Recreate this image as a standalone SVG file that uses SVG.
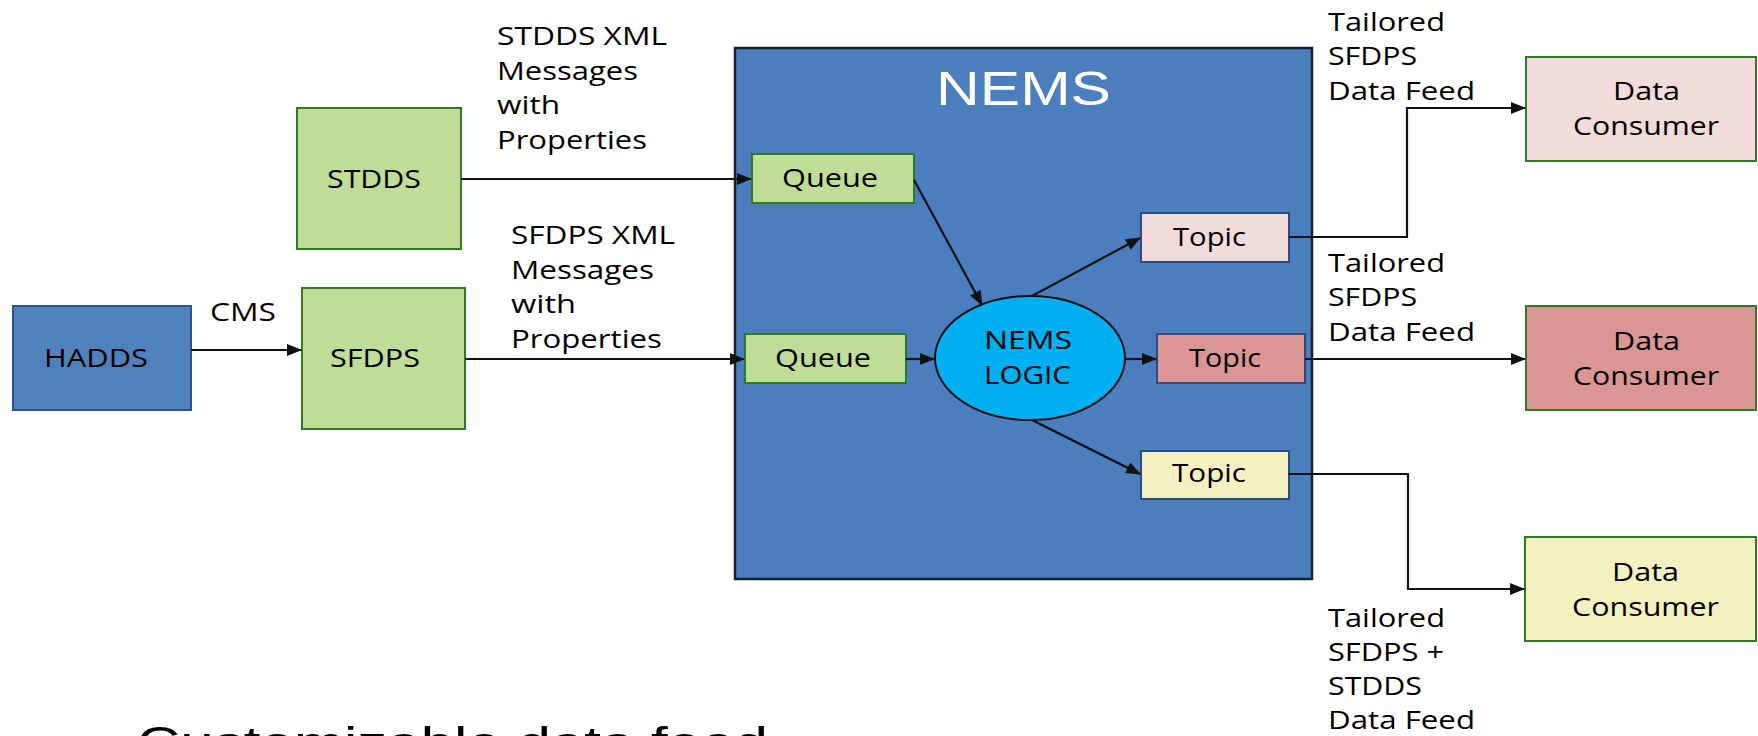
<svg xmlns="http://www.w3.org/2000/svg" width="1758" height="736" viewBox="0 0 1758 736">
<style>
.t{font-family:"Open Sans","Liberation Sans",sans-serif;font-size:26px;fill:#000;}
.lbl{font-family:"Open Sans","Liberation Sans",sans-serif;font-size:25px;fill:#000;}
.green{fill:#C0DD98;stroke:#2F7A24;stroke-width:2;}
.dc{stroke:#2F7A24;stroke-width:2;}
.topic{stroke:#2F4A80;stroke-width:2;}
.conn{fill:none;stroke:#111;stroke-width:2.2;}
</style>
<defs>
<marker id="ah" markerUnits="userSpaceOnUse" markerWidth="15" markerHeight="12" refX="14" refY="6" orient="auto">
<path d="M0,0 L15,6 L0,12 z" fill="#111"/>
</marker>
</defs>
<rect width="1758" height="736" fill="#fff"/>

<g id="nems">
<rect x="735" y="48" width="577" height="531" fill="#4A7EBF" stroke="#16202E" stroke-width="2.5"/>
<text x="936" y="105" font-family="Liberation Sans, Arial, sans-serif" font-size="49" fill="#fff" textLength="175" lengthAdjust="spacingAndGlyphs">NEMS</text>
</g>

<g id="hadds">
<rect x="13" y="306" width="178" height="104" fill="#4F81BD" stroke="#2F528F" stroke-width="2"/>
<text class="lbl" x="44" y="367" textLength="104" lengthAdjust="spacingAndGlyphs">HADDS</text>
</g>
<g id="stdds">
<rect class="green" x="297" y="108" width="164" height="141"/>
<text class="lbl" x="327" y="188" textLength="94" lengthAdjust="spacingAndGlyphs">STDDS</text>
</g>
<g id="sfdps">
<rect class="green" x="302" y="288" width="163" height="141"/>
<text class="lbl" x="330" y="367" textLength="90" lengthAdjust="spacingAndGlyphs">SFDPS</text>
</g>
<g id="queue1">
<rect class="green" x="752" y="154" width="162" height="49"/>
<text class="lbl" x="782" y="187" textLength="96" lengthAdjust="spacingAndGlyphs">Queue</text>
</g>
<g id="queue2">
<rect class="green" x="745" y="334" width="161" height="49"/>
<text class="lbl" x="775" y="367" textLength="96" lengthAdjust="spacingAndGlyphs">Queue</text>
</g>
<g id="logic">
<ellipse cx="1030" cy="358" rx="95" ry="62" fill="#00B0F0" stroke="#111" stroke-width="2"/>
<text class="lbl" x="984" y="349" textLength="88" lengthAdjust="spacingAndGlyphs">NEMS</text>
<text class="lbl" x="984" y="384" textLength="87" lengthAdjust="spacingAndGlyphs">LOGIC</text>
</g>
<g id="topic1">
<rect class="topic" x="1141" y="213" width="148" height="49" fill="#F2DCDB"/>
<text class="lbl" x="1173" y="246" textLength="73" lengthAdjust="spacingAndGlyphs">Topic</text>
</g>
<g id="topic2">
<rect class="topic" x="1157" y="334" width="148" height="49" fill="#D99694"/>
<text class="lbl" x="1189" y="367" textLength="72" lengthAdjust="spacingAndGlyphs">Topic</text>
</g>
<g id="topic3">
<rect class="topic" x="1141" y="451" width="148" height="48" fill="#F3F0C2"/>
<text class="lbl" x="1172" y="482" textLength="74" lengthAdjust="spacingAndGlyphs">Topic</text>
</g>
<g id="dc1">
<rect class="dc" x="1526" y="57" width="230" height="104" fill="#F2DCDB"/>
<text class="lbl" x="1613" y="100" textLength="67" lengthAdjust="spacingAndGlyphs">Data</text>
<text class="lbl" x="1573" y="135" textLength="146" lengthAdjust="spacingAndGlyphs">Consumer</text>
</g>
<g id="dc2">
<rect class="dc" x="1526" y="306" width="230" height="104" fill="#D99694"/>
<text class="lbl" x="1613" y="350" textLength="67" lengthAdjust="spacingAndGlyphs">Data</text>
<text class="lbl" x="1573" y="385" textLength="146" lengthAdjust="spacingAndGlyphs">Consumer</text>
</g>
<g id="dc3">
<rect class="dc" x="1525" y="537" width="231" height="104" fill="#F3F0C2"/>
<text class="lbl" x="1612" y="581" textLength="67" lengthAdjust="spacingAndGlyphs">Data</text>
<text class="lbl" x="1572" y="616" textLength="147" lengthAdjust="spacingAndGlyphs">Consumer</text>
</g>

<g id="connectors">
<line class="conn" x1="191" y1="350" x2="301" y2="350" marker-end="url(#ah)"/>
<line class="conn" x1="461" y1="179" x2="751" y2="179" marker-end="url(#ah)"/>
<line class="conn" x1="465" y1="359" x2="744" y2="359" marker-end="url(#ah)"/>
<line class="conn" x1="914" y1="180" x2="982" y2="305" marker-end="url(#ah)"/>
<line class="conn" x1="906" y1="359" x2="934" y2="359" marker-end="url(#ah)"/>
<line class="conn" x1="1032" y1="296" x2="1140" y2="238" marker-end="url(#ah)"/>
<line class="conn" x1="1125" y1="359" x2="1156" y2="359" marker-end="url(#ah)"/>
<line class="conn" x1="1032" y1="420" x2="1140" y2="474" marker-end="url(#ah)"/>
<polyline class="conn" points="1289,237 1407,237 1407,108 1525,108" marker-end="url(#ah)"/>
<line class="conn" x1="1305" y1="359" x2="1525" y2="359" marker-end="url(#ah)"/>
<polyline class="conn" points="1289,474 1408,474 1408,589 1524,589" marker-end="url(#ah)"/>
</g>

<g id="labels">
<text class="t" x="210" y="321" textLength="66" lengthAdjust="spacingAndGlyphs">CMS</text>
<text class="t" x="497" y="45" textLength="170" lengthAdjust="spacingAndGlyphs">STDDS XML</text>
<text class="t" x="497" y="80" textLength="141" lengthAdjust="spacingAndGlyphs">Messages</text>
<text class="t" x="497" y="114" textLength="63" lengthAdjust="spacingAndGlyphs">with</text>
<text class="t" x="497" y="149" textLength="150" lengthAdjust="spacingAndGlyphs">Properties</text>
<text class="t" x="511" y="244" textLength="164" lengthAdjust="spacingAndGlyphs">SFDPS XML</text>
<text class="t" x="511" y="279" textLength="143" lengthAdjust="spacingAndGlyphs">Messages</text>
<text class="t" x="511" y="313" textLength="65" lengthAdjust="spacingAndGlyphs">with</text>
<text class="t" x="511" y="348" textLength="151" lengthAdjust="spacingAndGlyphs">Properties</text>
<text class="t" x="1328" y="31" textLength="117" lengthAdjust="spacingAndGlyphs">Tailored</text>
<text class="t" x="1328" y="65" textLength="89" lengthAdjust="spacingAndGlyphs">SFDPS</text>
<text class="t" x="1328" y="100" textLength="147" lengthAdjust="spacingAndGlyphs">Data Feed</text>
<text class="t" x="1328" y="272" textLength="117" lengthAdjust="spacingAndGlyphs">Tailored</text>
<text class="t" x="1328" y="306" textLength="89" lengthAdjust="spacingAndGlyphs">SFDPS</text>
<text class="t" x="1328" y="341" textLength="147" lengthAdjust="spacingAndGlyphs">Data Feed</text>
<text class="t" x="1328" y="627" textLength="117" lengthAdjust="spacingAndGlyphs">Tailored</text>
<text class="t" x="1328" y="661" textLength="116" lengthAdjust="spacingAndGlyphs">SFDPS +</text>
<text class="t" x="1328" y="695" textLength="94" lengthAdjust="spacingAndGlyphs">STDDS</text>
<text class="t" x="1328" y="729" textLength="147" lengthAdjust="spacingAndGlyphs">Data Feed</text>
<text x="137" y="758" font-family="Liberation Sans, Arial, sans-serif" font-size="45" fill="#000" textLength="631" lengthAdjust="spacingAndGlyphs">Customizable data feed</text>
</g>
</svg>
